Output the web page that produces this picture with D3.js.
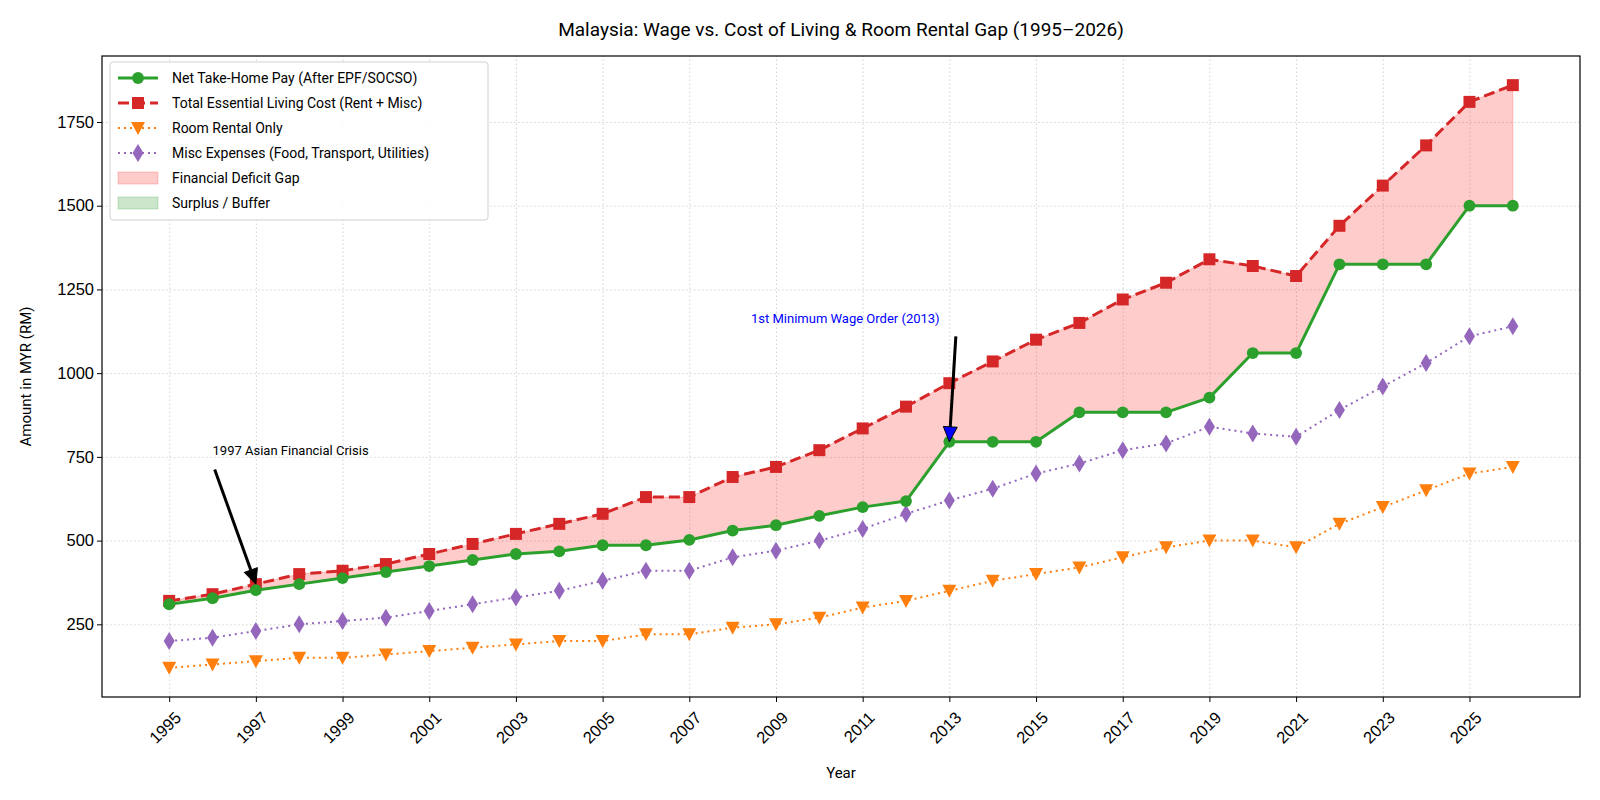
<!DOCTYPE html>
<html>
<head>
<meta charset="utf-8">
<script src="https://cdn.jsdelivr.net/npm/d3@7"></script>
<style>
  body { margin: 0; background: #fff; }
  svg { font-family: Roboto, "Open Sans", sans-serif; }
  .grid line { stroke: #cfcfcf; stroke-dasharray: 1.5,2.5; stroke-width: 0.9; }
</style>
</head>
<body>
<svg id="chart" width="1600" height="800"></svg>
<script>
/* DATA */
const years = d3.range(1995, 2027);
const netPay = [310, 328, 352, 370, 388, 406, 424, 442, 460, 468, 486, 486, 502, 530, 546, 574,
  600, 618, 795, 795, 795, 883, 883, 883, 927, 1060, 1060, 1325, 1325, 1325, 1500, 1500];
const totalCost = [320, 340, 370, 400, 410, 430, 460, 490, 520, 550, 580, 630, 630, 690, 720, 770,
  835, 900, 970, 1035, 1100, 1150, 1220, 1270, 1340, 1320, 1290, 1440, 1560, 1680, 1810, 1860];
const rent = [120, 130, 140, 150, 150, 160, 170, 180, 190, 200, 200, 220, 220, 240, 250, 270,
  300, 320, 350, 380, 400, 420, 450, 480, 500, 500, 480, 550, 600, 650, 700, 720];
const misc = [200, 210, 230, 250, 260, 270, 290, 310, 330, 350, 380, 410, 410, 450, 470, 500,
  535, 580, 620, 655, 700, 730, 770, 790, 840, 820, 810, 890, 960, 1030, 1110, 1140];
const xTicks = d3.range(1995, 2027, 2);
const yTicks = [250, 500, 750, 1000, 1250, 1500, 1750];

const seriesList = [
  { name: "Net Take-Home Pay (After EPF/SOCSO)", values: netPay, color: "#2ca02c", width: 3, dash: null, marker: "circle" },
  { name: "Total Essential Living Cost (Rent + Misc)", values: totalCost, color: "#d62728", width: 3, dash: "11,5", marker: "square" },
  { name: "Room Rental Only", values: rent, color: "#ff7f0e", width: 2, dash: "2,4", marker: "triangle" },
  { name: "Misc Expenses (Food, Transport, Utilities)", values: misc, color: "#9467bd", width: 2, dash: "2,4", marker: "diamond" }
];

const annotations = [
  { text: "1997 Asian Financial Crisis", color: "#000", tip: [1997, 370], tail: [1996.05, 712], textAt: [1996, 766], anchor: "start", head: "#000" },
  { text: "1st Minimum Wage Order (2013)", color: "#0000ff", tip: [2013, 795], tail: [2013.15, 1110], textAt: [2010.6, 1160], anchor: "middle", head: "#0000ff" }
];

/* LAYOUT */
const svg = d3.select("#chart");
const margin = { left: 102, right: 20, top: 56, bottom: 103 };
const width = 1600, height = 800;
const plotW = width - margin.left - margin.right;
const plotH = height - margin.top - margin.bottom;

const xPad = (2026 - 1995) * 0.05;
const x = d3.scaleLinear().domain([1995 - xPad, 2026 + xPad]).range([margin.left, margin.left + plotW]);
const yMin = d3.min(rent), yMax = d3.max(totalCost);
const yPad = (yMax - yMin) * 0.05;
const y = d3.scaleLinear().domain([yMin - yPad, yMax + yPad]).range([margin.top + plotH, margin.top]);

// grid lines
svg.append("g").attr("class", "grid")
  .attr("transform", `translate(0,${margin.top + plotH})`)
  .call(d3.axisBottom(x).tickValues(xTicks).tickSize(-plotH).tickFormat(""))
  .call(g => g.select(".domain").remove());
svg.append("g").attr("class", "grid")
  .attr("transform", `translate(${margin.left},0)`)
  .call(d3.axisLeft(y).tickValues(yTicks).tickSize(-plotW).tickFormat(""))
  .call(g => g.select(".domain").remove());

/* DEFICIT / SURPLUS FILL */
const gap = years.map((yr, i) => ({ yr: yr, pay: netPay[i], cost: totalCost[i] }));
svg.append("path")
  .datum(gap)
  .attr("fill", "rgba(255,0,0,0.2)")
  .attr("stroke", "rgba(255,0,0,0.2)")
  .attr("d", d3.area().x(d => x(d.yr)).y0(d => y(d.pay)).y1(d => y(Math.max(d.cost, d.pay))));
svg.append("path")
  .datum(gap)
  .attr("fill", "rgba(0,128,0,0.2)")
  .attr("d", d3.area().x(d => x(d.yr)).y0(d => y(d.cost)).y1(d => y(Math.max(d.cost, d.pay))));

/* LINES AND MARKERS */
function markerPath(type) {
  if (type === "circle") return d3.symbol(d3.symbolCircle, 110)();
  if (type === "square") return "M-6,-6H6V6H-6Z";
  if (type === "triangle") return "M-7,-6H7L0,7Z";
  return "M0,-9L5.5,0L0,9L-5.5,0Z";
}

// draw back to front like the reference (misc and rent under)
[3, 2, 1, 0].forEach(k => {
  let s = seriesList[k];
  let pts = years.map((yr, i) => [yr, s.values[i]]);
  svg.append("path")
    .datum(pts)
    .attr("fill", "none")
    .attr("stroke", s.color)
    .attr("stroke-width", s.width)
    .attr("stroke-dasharray", s.dash)
    .attr("stroke-linejoin", "round")
    .attr("d", d3.line().x(d => x(d[0])).y(d => y(d[1])));
  svg.append("g").selectAll("path")
    .data(pts)
    .join("path")
    .attr("transform", d => `translate(${x(d[0])},${y(d[1])})`)
    .attr("d", markerPath(s.marker))
    .attr("fill", s.color);
});

/* AXES */
svg.append("rect")
  .attr("x", margin.left).attr("y", margin.top)
  .attr("width", plotW).attr("height", plotH)
  .attr("fill", "none").attr("stroke", "#000").attr("stroke-width", 1.2);

let xAxis = svg.append("g")
  .attr("transform", `translate(0,${margin.top + plotH})`)
  .call(d3.axisBottom(x).tickValues(xTicks).tickFormat(d3.format("d")).tickSize(5));
xAxis.select(".domain").remove();
xAxis.selectAll("text")
  .attr("font-size", 16.5)
  .attr("fill", "#000")
  .attr("text-anchor", "end")
  .attr("dy", null)
  .attr("transform", "translate(7,16) rotate(-45)");

let yAxis = svg.append("g")
  .attr("transform", `translate(${margin.left},0)`)
  .call(d3.axisLeft(y).tickValues(yTicks).tickFormat(d3.format("d")).tickSize(5));
yAxis.select(".domain").remove();
yAxis.selectAll("text").attr("font-size", 16.5).attr("fill", "#000");

svg.append("text")
  .attr("x", margin.left + plotW / 2).attr("y", 778)
  .attr("text-anchor", "middle").attr("font-size", 15)
  .text("Year");
svg.append("text")
  .attr("transform", `translate(31,${margin.top + plotH / 2}) rotate(-90)`)
  .attr("text-anchor", "middle").attr("font-size", 15)
  .text("Amount in MYR (RM)");
svg.append("text")
  .attr("x", margin.left + plotW / 2).attr("y", 36)
  .attr("text-anchor", "middle").attr("font-size", 19)
  .text("Malaysia: Wage vs. Cost of Living & Room Rental Gap (1995\u20132026)");

/* ANNOTATIONS */
annotations.forEach(a => {
  let x1 = x(a.tail[0]), y1 = y(a.tail[1]);
  let x2 = x(a.tip[0]), y2 = y(a.tip[1]);
  let ang = Math.atan2(y2 - y1, x2 - x1);
  let headLen = 15, headW = 7;
  let bx = x2 - headLen * Math.cos(ang), by = y2 - headLen * Math.sin(ang);
  svg.append("line")
    .attr("x1", x1).attr("y1", y1).attr("x2", bx).attr("y2", by)
    .attr("stroke", "#000").attr("stroke-width", 3);
  let px = -Math.sin(ang) * headW, py = Math.cos(ang) * headW;
  svg.append("path")
    .attr("d", `M${x2},${y2}L${bx + px},${by + py}L${bx - px},${by - py}Z`)
    .attr("fill", a.head).attr("stroke", "#000").attr("stroke-width", 1);
  svg.append("text")
    .attr("x", x(a.textAt[0])).attr("y", y(a.textAt[1]))
    .attr("text-anchor", a.anchor).attr("dominant-baseline", "middle")
    .attr("font-size", 13).attr("fill", a.color)
    .text(a.text);
});

/* LEGEND */
const legendItems = seriesList.map(s => ({ kind: "line", s: s, name: s.name }))
  .concat([
    { kind: "patch", fill: "rgba(255,0,0,0.2)", name: "Financial Deficit Gap" },
    { kind: "patch", fill: "rgba(0,128,0,0.2)", name: "Surplus / Buffer" }
  ]);

let legend = svg.append("g").attr("transform", `translate(${margin.left + 8},${margin.top + 6})`);
legend.append("rect")
  .attr("width", 378).attr("height", 158).attr("rx", 3)
  .attr("fill", "rgba(255,255,255,0.85)").attr("stroke", "#d0d0d0");
legendItems.forEach((item, i) => {
  let row = legend.append("g").attr("transform", `translate(8,${16 + i * 25})`);
  if (item.kind === "line") {
    row.append("line").attr("x1", 0).attr("x2", 40)
      .attr("stroke", item.s.color).attr("stroke-width", item.s.width)
      .attr("stroke-dasharray", item.s.dash);
    row.append("path").attr("transform", "translate(20,0)")
      .attr("d", markerPath(item.s.marker)).attr("fill", item.s.color);
  } else {
    row.append("rect").attr("x", 0).attr("y", -6).attr("width", 40).attr("height", 12)
      .attr("fill", item.fill).attr("stroke", item.fill);
  }
  row.append("text").attr("x", 54).attr("dy", "0.35em")
    .attr("font-size", 14).text(item.name);
});
</script>
</body>
</html>
